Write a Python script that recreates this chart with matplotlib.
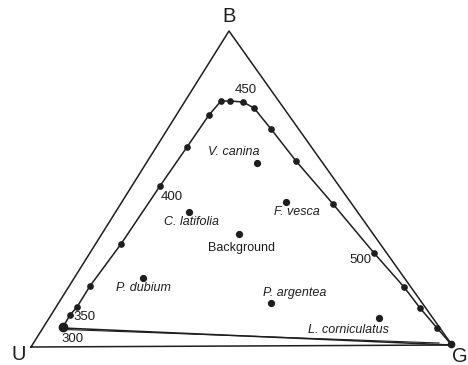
import matplotlib.pyplot as plt

# colour triangle corners (U, B, G)
corner_names = ['U', 'B', 'G']
corner_x = [31, 229, 452]
corner_y = [347, 31, 345]

# spectral locus, from 300 nm round to the G corner
locus_x = [63, 70, 77, 90, 121, 160, 187, 209, 221, 230, 243, 254, 271, 296, 333, 374, 404, 420, 437, 451]
locus_y = [327, 315, 307, 286, 244, 186, 147, 115, 101, 101, 102, 108, 129, 161, 204, 253, 287, 308, 328, 344]

# wavelength labels and the locus point each belongs to
wl_labels = ['300', '350', '400', '450', '500']
wl_index = [0, 1, 5, 10, 15]

# flower colour loci
flowers = ['V. canina', 'F. vesca', 'C. latifolia', 'Background',
           'P. dubium', 'P. argentea', 'L. corniculatus']
flower_x = [256.7, 285.7, 189, 239.3, 143.3, 270.7, 379]
flower_y = [163.3, 201.7, 211.7, 234.3, 278.3, 303.3, 318.3]

plt.rcParams['font.family'] = ['Liberation Sans', 'DejaVu Sans']

fig = plt.figure(figsize=(4.68, 3.65), dpi=100)
ax = fig.add_axes([0, 0, 1, 1])
ax.set_xlim(0, 468)
ax.set_ylim(365, 0)
ax.axis('off')

ink = '#1e1e1e'

# triangle
tx = corner_x + [corner_x[0]]
ty = corner_y + [corner_y[0]]
ax.plot(tx, ty, color=ink, lw=1.1)

corner_off = [(-12, 8), (0, -15), (8, 11)]
for name, x, y, (dx, dy) in zip(corner_names, corner_x, corner_y, corner_off):
    ax.text(x + dx, y + dy, name, fontsize=14.5, ha='center', va='center', color=ink)

# locus line with sample points
ax.plot(locus_x, locus_y, color=ink, lw=1.1)
ax.plot(locus_x[1:-1], locus_y[1:-1], 'o', color=ink, ms=3.8)
ax.plot(locus_x[0], locus_y[0], 'o', color=ink, ms=6)
ax.plot(locus_x[-1], locus_y[-1], 'o', color=ink, ms=4.5)

# closing line back from G to 300 nm (drawn double)
ax.plot([locus_x[0], locus_x[-1]], [locus_y[0] + 1, locus_y[-1] + 1], color=ink, lw=1.1)
ax.plot([locus_x[0] + 2, locus_x[-1] - 12], [locus_y[0] + 2.5, locus_y[-1] - 1], color=ink, lw=0.8)

wl_off = [(10, 12), (15, 2), (12, 11), (3, -12), (-14, 7)]
for lab, i, (dx, dy) in zip(wl_labels, wl_index, wl_off):
    ax.text(locus_x[i] + dx, locus_y[i] + dy, lab, fontsize=9.5,
            ha='center', va='center', color=ink)

# flowers
ax.plot(flower_x, flower_y, 'o', color=ink, ms=4.2)
fl_off = [(-23, -11.5), (11, 10.5), (2.5, 10), (2.5, 14), (0, 10), (24, -10), (-31, 12)]
for name, x, y, (dx, dy) in zip(flowers, flower_x, flower_y, fl_off):
    style = 'normal' if name == 'Background' else 'italic'
    ax.text(x + dx, y + dy, name, fontsize=9, style=style,
            ha='center', va='center', color=ink)

fig.savefig('out.png', dpi=100)
